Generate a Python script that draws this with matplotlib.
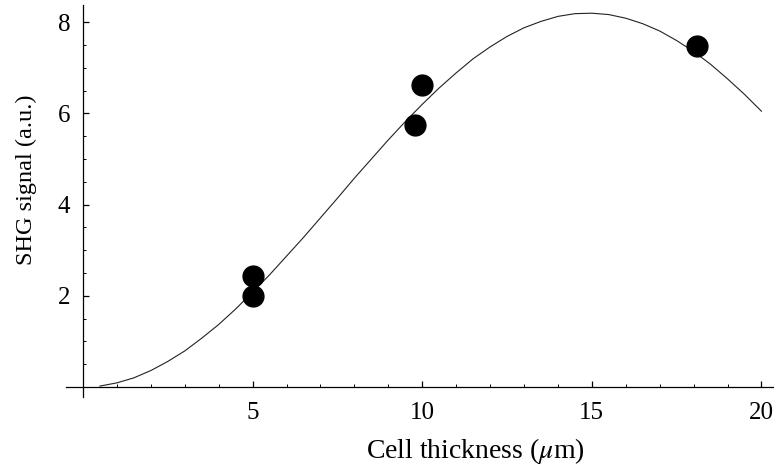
import matplotlib.pyplot as plt
from matplotlib.ticker import MultipleLocator, FixedLocator

# fitted curve
curve_x = [0.5, 1, 1.5, 2, 2.5, 3, 3.5, 4, 4.5, 5, 5.5, 6, 6.5, 7, 7.5, 8, 8.5, 9, 9.5, 10,
           10.5, 11, 11.5, 12, 12.5, 13, 13.5, 14, 14.5, 15, 15.5, 16, 16.5, 17, 17.5, 18,
           18.5, 19, 19.5, 20]
curve_y = [0.02, 0.09, 0.20, 0.36, 0.56, 0.79, 1.07, 1.37, 1.71, 2.08, 2.46, 2.87, 3.28, 3.71,
           4.14, 4.58, 5.00, 5.42, 5.82, 6.20, 6.56, 6.89, 7.20, 7.46, 7.69, 7.88, 8.02, 8.13,
           8.19, 8.20, 8.17, 8.09, 7.97, 7.81, 7.60, 7.36, 7.08, 6.76, 6.42, 6.05]

# measured points
meas_x = [5.0, 5.0, 9.8, 10.0, 18.1]
meas_y = [2.0, 2.43, 5.75, 6.62, 7.48]

xticks = [5, 10, 15, 20]
yticks = [2, 4, 6, 8]


def main():
    plt.rcParams["font.family"] = ["Liberation Serif", "DejaVu Serif"]
    plt.rcParams["mathtext.fontset"] = "stix"

    fig = plt.figure(figsize = (7.74, 4.66), dpi = 100)
    ax = fig.add_axes([66 / 774, 69 / 466, 1 - 66 / 774, 392 / 466])

    ax.plot(curve_x, curve_y, color = "#222222", linewidth = 0.8)
    ax.plot(meas_x, meas_y, "o", color = "black", markersize = 15)

    ax.set_xlim(-0.5, 20.37)
    ax.set_ylim(-0.22, 8.38)

    # axes cross at the origin
    ax.spines["left"].set_position(("data", 0))
    ax.spines["bottom"].set_position(("data", 0))
    ax.spines["top"].set_visible(False)
    ax.spines["right"].set_visible(False)
    for s in ("left", "bottom"):
        ax.spines[s].set_linewidth(0.9)

    ax.xaxis.set_major_locator(FixedLocator(xticks))
    ax.yaxis.set_major_locator(FixedLocator(yticks))
    ax.xaxis.set_minor_locator(MultipleLocator(1))
    ax.yaxis.set_minor_locator(MultipleLocator(0.5))
    ax.tick_params(which = "major", direction = "in", length = 4, width = 0.9, labelsize = 18)
    ax.tick_params(which = "minor", direction = "in", length = 2.2, width = 0.7)
    ax.tick_params(axis = "x", pad = 11)
    ax.tick_params(axis = "y", pad = 9)

    ax.set_xlabel(r"Cell thickness ($\mu$m)", fontsize = 20)
    ax.set_ylabel("SHG signal (a.u.)", fontsize = 17.5)
    ax.xaxis.set_label_coords(0.578, -0.0995)
    ax.yaxis.set_label_coords(-0.041, 0.554)

    plt.savefig("out.png", dpi = 100)
    plt.close()


if __name__ == "__main__":
    main()
